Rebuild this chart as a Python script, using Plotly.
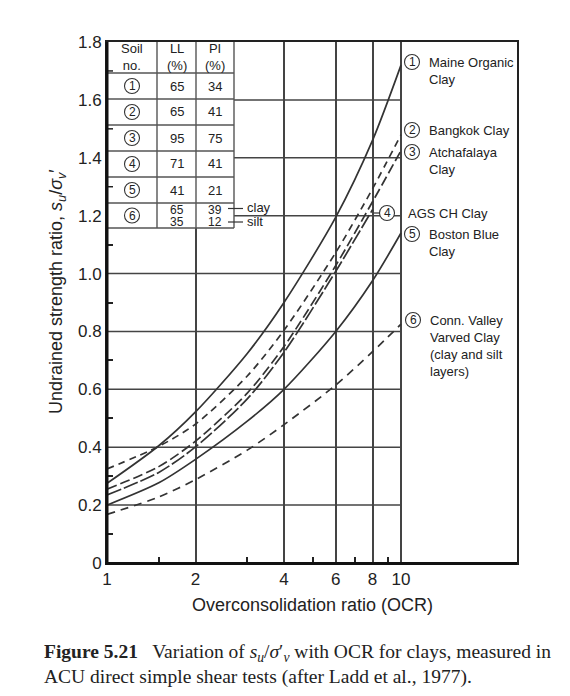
import plotly.graph_objects as go

ocr = [1, 1.5, 2, 3, 4, 6, 8, 10]
ocr_ags = [1, 1.5, 2, 3, 4, 6, 8]

maine = [0.275, 0.405, 0.522, 0.724, 0.90, 1.195, 1.46, 1.72]
bangkok = [0.325, 0.403, 0.48, 0.646, 0.804, 1.073, 1.293, 1.48]
atchafalaya = [0.255, 0.333, 0.421, 0.587, 0.748, 1.028, 1.248, 1.425]
ags = [0.235, 0.313, 0.401, 0.567, 0.728, 1.008, 1.221]
boston = [0.20, 0.277, 0.358, 0.49, 0.60, 0.80, 0.975, 1.14]
conn = [0.168, 0.228, 0.288, 0.39, 0.478, 0.615, 0.73, 0.825]

curve_names = ["Maine Organic<br>Clay", "Bangkok Clay", "Atchafalaya<br>Clay",
               "AGS CH Clay", "Boston Blue<br>Clay",
               "Conn. Valley<br>Varved Clay<br>(clay and silt<br>layers)"]

# table of soil properties
soil_no = ["1", "2", "3", "4", "5", "6"]
soil_ll = ["65", "65", "95", "71", "41", "65"]
soil_pi = ["34", "41", "75", "41", "21", "39"]
silt_ll = "35"
silt_pi = "12"

x_ticks = [1, 2, 4, 6, 8, 10]
x_minor = [1.5, 3, 5, 7, 9]
y_ticks = [0, 0.2, 0.4, 0.6, 0.8, 1.0, 1.2, 1.4, 1.6, 1.8]
y_ticktext = ["0", "0.2", "0.4", "0.6", "0.8", "1.0", "1.2", "1.4", "1.6", "1.8"]
y_minor = [0.1, 0.3, 0.5, 0.7, 0.9, 1.1, 1.3, 1.5, 1.7]

# frame in pixels; one log decade of OCR is 294 px wide, the frame goes on past 10
L, R, T, B = 107, 517, 42, 563
W, H = 570, 696
DECADE = 294
X10 = L + DECADE


def X(p):
    return (p - L) / (R - L)


def Y(p):
    return (B - p) / (B - T)


ink = "#333333"
grid = "#444444"
font = "Liberation Sans"

fig = go.Figure()

series = [
    (ocr, maine, "solid"),
    (ocr, bangkok, "7px,5px"),
    (ocr, atchafalaya, "10px,4px"),
    (ocr_ags, ags, "15px,3px"),
    (ocr, boston, "solid"),
    (ocr, conn, "8px,6px"),
]
for (xs, ys, dash), name in zip(series, curve_names):
    fig.add_trace(go.Scatter(
        x=xs, y=ys, mode="lines", name=name.replace("<br>", " "),
        line=dict(color=ink, width=1.7, dash=dash, shape="spline", smoothing=0.8),
        hoverinfo="x+y+name",
    ))

shapes = []
annotations = []

# horizontal grid only runs from OCR 1 to 10
for v in y_ticks[1:-1]:
    shapes.append(dict(type="line", xref="paper", yref="y", x0=0, x1=X(X10), y0=v, y1=v,
                       line=dict(color=grid, width=1.5), layer="below"))


def hline(x0, x1, y, w=1.5, color=grid, layer="above"):
    shapes.append(dict(type="line", xref="paper", yref="paper", x0=X(x0), x1=X(x1),
                       y0=Y(y), y1=Y(y), line=dict(color=color, width=w), layer=layer))


def vline(x, y0, y1, w=1.5, color=grid, layer="above"):
    shapes.append(dict(type="line", xref="paper", yref="paper", x0=X(x), x1=X(x),
                       y0=Y(y0), y1=Y(y1), line=dict(color=color, width=w), layer=layer))


def circle(cx, cy, r=7.5):
    shapes.append(dict(type="circle", xref="paper", yref="paper",
                       xsizemode="pixel", ysizemode="pixel",
                       xanchor=X(cx), yanchor=Y(cy), x0=-r, x1=r, y0=-r, y1=r,
                       line=dict(color=ink, width=1.1), fillcolor="white", layer="above"))


def text(s, x, y, size=13, xanchor="center", yanchor="middle", align="center", fam=font, angle=0):
    annotations.append(dict(text=s, xref="paper", yref="paper", x=X(x), y=Y(y),
                            xanchor=xanchor, yanchor=yanchor, align=align, showarrow=False,
                            textangle=angle, font=dict(family=fam, size=size, color="#222")))


# table (white box hides the grid behind it)
shapes.append(dict(type="rect", xref="paper", yref="paper", x0=X(107), x1=X(234),
                   y0=Y(228), y1=Y(42), fillcolor="white", line=dict(width=0), layer="above"))
for v in y_minor:
    if v > 1.2:
        shapes.append(dict(type="line", xref="paper", yref="y", x0=0, x1=X(113), y0=v, y1=v,
                           line=dict(color="#222", width=1.5), layer="above"))
rows = [42, 73, 99, 125, 151, 177, 203, 228]
for r in rows[1:]:
    hline(107, 234, r, w=1.4, color="#555555")
for c in [157, 196, 234]:
    vline(c, 42, 228, w=1.4, color="#555555")
text("Soil<br>no.", 132, 57)
text("LL<br>(%)", 176.5, 57)
text("PI<br>(%)", 215, 57)
for i in range(6):
    top, bot = rows[i + 1], rows[i + 2]
    cy = (top + bot) / 2
    circle(132, cy)
    text(soil_no[i], 132, cy, size=12)
    if i < 5:
        text(soil_ll[i], 176.5, cy)
        text(soil_pi[i], 215, cy)
    else:
        text(soil_ll[i], 176.5, 209.5, size=12)
        text(silt_ll, 176.5, 221.5, size=12)
        text(soil_pi[i], 215, 209.5, size=12)
        text(silt_pi, 215, 221.5, size=12)
hline(228, 243, 208.5, w=1.2, color=ink)
hline(228, 243, 222, w=1.2, color=ink)
text("clay", 245, 207.5, xanchor="left")
text("silt", 245, 221.5, xanchor="left")

# thicker left and bottom axis lines
vline(107, 42, 564.5, w=3, color="#111111")
hline(105.5, 517, 563.5, w=3, color="#111111")

# curve labels on the right
label_pos = [(412, 62), (412, 130), (412, 152), (387, 213), (412, 234), (413, 320)]
for i, (name, (cx, cy)) in enumerate(zip(curve_names, label_pos)):
    circle(cx, cy)
    text(str(i + 1), cx, cy, size=12)
    tx = cx + 15 if i != 3 else 406
    text(name, tx, cy - 9, xanchor="left", yanchor="top", align="left")
hline(374, 380, 213, w=1.2, color=ink)

# axis titles
text("Overconsolidation ratio (OCR)", 312, 605, size=18)
text("Undrained strength ratio, <i>s<sub>u</sub></i>/<i>σ<sub>v</sub></i>′", 57, 292, size=18, angle=-90)

# caption
serif = "Liberation Serif"
text("<b>Figure 5.21</b>   Variation of <i>s<sub>u</sub></i>/<i>σ</i>′<sub><i>v</i></sub> with OCR for clays, measured in",
     42, 653, size=19.5, xanchor="left", fam=serif)
text("ACU direct simple shear tests (after Ladd et al., 1977).", 42, 677, size=19.5, xanchor="left", fam=serif)

fig.update_layout(
    width=W, height=H,
    margin=dict(l=L, r=W - R, t=T, b=H - B),
    paper_bgcolor="white", plot_bgcolor="white",
    showlegend=False,
    shapes=shapes, annotations=annotations,
    font=dict(family=font, size=17, color="#222"),
)
fig.update_xaxes(
    type="log", range=[0, (R - L) / DECADE],
    tickvals=x_ticks, ticktext=[str(v) for v in x_ticks],
    showgrid=True, gridcolor=grid, gridwidth=1.5,
    showline=True, mirror=True, linewidth=2, linecolor="#222222",
    zeroline=False, ticks="",
    tickfont=dict(size=17, color="#222"),
    minor=dict(tickvals=x_minor, ticks="inside", ticklen=6, tickwidth=1.5,
               tickcolor="#222", showgrid=False),
)
fig.update_yaxes(
    range=[0, 1.8],
    tickvals=y_ticks, ticktext=y_ticktext,
    showgrid=False,
    showline=True, mirror=True, linewidth=2, linecolor="#222222",
    zeroline=False, ticks="",
    tickfont=dict(size=17, color="#222"),
    minor=dict(tickvals=y_minor, ticks="inside", ticklen=6, tickwidth=1.5,
               tickcolor="#222", showgrid=False),
)

fig.write_html("out.html", config={"displayModeBar": False},
               post_script="document.body.style.margin='0';")
